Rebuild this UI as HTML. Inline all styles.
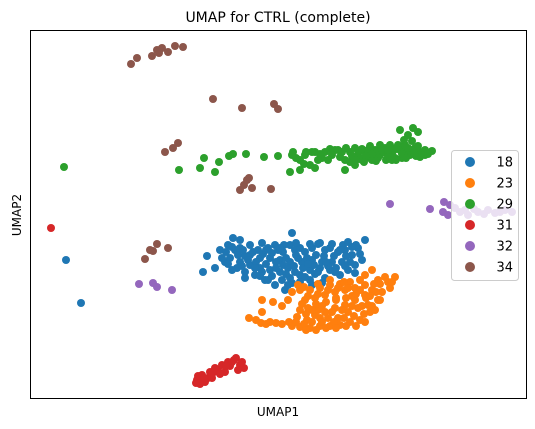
<!DOCTYPE html>
<html><head><meta charset="utf-8"><style>
body{margin:0;background:#fff;}
svg{display:block;font-family:"DejaVu Sans","Liberation Sans",sans-serif;}
</style></head><body>
<svg id="chart" width="535" height="429">
<rect width="535" height="429" fill="#fff"/>
<text x="278" y="22" text-anchor="middle" font-size="14">UMAP for CTRL (complete)</text>
<g id="points"></g>
<rect x="30.5" y="30.5" width="496" height="368" fill="none" stroke="#000" stroke-width="1"/>
<text x="278" y="416" text-anchor="middle" font-size="12">UMAP1</text>
<text x="21" y="215" text-anchor="middle" font-size="12" transform="rotate(-90 21 215)">UMAP2</text>
<g id="legend"></g>
</svg>
<script>
// data in UMAP units (read as pixel positions, converted below)
const categories=["18","23","29","31","32","34"];
const colors=["#1f77b4","#ff7f0e","#2ca02c","#d62728","#9467bd","#8c564b"];
const px18=[[66,260],[81,303],[203,272],[215,268],[225,262],[220,250],[228,245],[235,250],[230,258],[240,248],[245,256],[250,245],[258,250],[262,243],[268,248],[275,245],[283,252],[290,245],[295,250],[300,248],[305,252],[312,248],[318,244],[325,250],[330,248],[338,252],[345,250],[352,255],[358,248],[365,240],[362,260],[355,265],[348,270],[340,275],[330,270],[320,268],[310,270],[300,275],[290,278],[280,272],[270,270],[260,268],[250,265],[240,262],[245,272],[255,275],[265,280],[275,285],[285,290],[292,283],[302,262],[312,260],[322,262],[332,262],[342,262],[270,258],[280,260],[290,262],[260,258],[250,255],[237,268],[292,233],[320,243],[228,264],[207,256],[356,245],[343,245],[298,258],[283,265],[268,280],[245,278],[355,273],[310,280],[325,278],[240,240],[233,238],
[226,252],[232,247],[238,255],[243,250],[248,260],[253,252],[256,262],[263,254],[266,264],[272,253],[276,262],[278,250],[286,258],[288,268],[294,266],[296,255],[303,268],[307,258],[314,265],[316,255],[324,256],[328,266],[334,256],[336,268],[340,250],[346,256],[350,262],[360,254],[352,247],[262,272],[272,276],[282,280],[295,272],[305,277],[315,274],[335,272],[345,266],[255,268],[276,268],[286,274],[300,282],[288,285],[266,250],[284,245],[296,243],[310,244],[332,244],[348,242],[326,262],[318,272],[308,264],[242,266],[222,258],[232,270],[260,276],[312,285],[322,283],[280,248]];
const px23=[[249,318],[261,323],[270,322],[282,324],[289,322],[297,317],[300,327],[307,320],[315,315],[325,312],[335,308],[345,305],[355,300],[365,295],[372,290],[378,280],[385,277],[395,277],[390,288],[378,300],[370,312],[360,320],[350,322],[340,325],[330,326],[320,326],[310,328],[300,310],[305,300],[315,298],[325,295],[335,292],[345,290],[355,288],[365,285],[372,270],[380,300],[375,310],[368,305],[358,308],[348,312],[338,318],[328,318],[318,310],[308,308],[300,290],[310,290],[320,288],[330,285],[340,284],[350,282],[360,290],[288,300],[282,306],[262,300],[262,312],[273,302],[320,318],[336,300],[352,296],[298,285],[365,275],[365,322],
[256,320],[266,324],[276,323],[292,326],[304,324],[312,322],[322,322],[334,322],[344,318],[354,316],[364,314],[372,306],[382,292],[388,282],[376,292],[366,298],[356,294],[346,298],[336,298],[326,302],[316,304],[306,314],[312,310],[322,306],[332,312],[342,310],[352,306],[362,306],[370,296],[360,280],[348,288],[338,288],[328,290],[318,294],[308,296],[302,304],[296,322],[326,328],[336,328],[346,326],[356,326],[316,330],[306,330],[380,284],[392,282],[374,284],[344,282],[330,280],[318,284],[304,287],[292,292]];
const px29=[[64,167],[179,170],[200,168],[204,158],[215,172],[229,156],[233,154],[246,154],[264,157],[278,156],[219,162],[290,172],[292,155],[293,152],[300,160],[305,155],[310,165],[315,152],[322,158],[328,160],[335,150],[340,157],[350,152],[345,160],[355,148],[358,155],[365,152],[370,158],[375,150],[380,155],[385,148],[390,152],[395,158],[400,150],[405,145],[410,155],[415,148],[420,152],[425,150],[432,151],[413,128],[418,132],[400,130],[408,135],[362,160],[330,149],[318,160],[300,170],[350,162],[372,160],[386,160],[396,160],[402,158],[412,150],[425,155],[380,145],[390,145],[398,145],[362,149],[368,150],[376,152],[384,152],[392,154],[404,152],[416,156],[355,165],[338,150],[325,152],[312,152],[360,158],[315,168],[345,170],
[370,146],[378,158],[388,156],[394,150],[402,154],[408,148],[414,153],[420,157],[428,154],[372,154],[382,150],[366,156],[358,151],[352,156],[342,152],[332,155],[320,154],[306,152],[296,158],[304,164],[346,148],[364,162],[376,161],[392,160],[406,158],[412,141],[404,140],[396,148],[418,146],[388,150],[356,160]];
const px31=[[51,228],[197,380],[202,375],[208,378],[214,372],[205,382],[198,376],[218,370],[222,365],[228,362],[234,360],[240,365],[244,368],[238,370],[230,366],[225,372],[210,372],[215,368],[200,384],[236,358],[212,378],[220,374],[232,362],[204,378],[196,383],[226,366],[242,362]];
const px32=[[139,284],[153,283],[157,287],[172,290],[390,204],[430,209],[443,212],[444,202],[450,205],[455,208],[460,212],[468,215],[478,212],[488,210],[495,213],[505,210],[512,212],[448,215],[474,209],[484,214],[500,212],[465,210]];
const px34=[[131,64],[137,58],[152,56],[157,50],[162,48],[168,52],[175,46],[183,47],[159,53],[213,99],[242,108],[274,104],[278,109],[165,152],[178,143],[173,148],[244,185],[247,180],[252,188],[249,178],[271,189],[240,190],[150,250],[157,244],[145,259],[168,248],[153,251]];
const toU=a=>a.map(p=>[p[0]/10,(429-p[1])/10]);
const series=[toU(px18),toU(px23),toU(px29),toU(px31),toU(px32),toU(px34)];
const xDom=[3,52.7], yDom=[3,39.9];
const xs=v=>30+(v-xDom[0])/(xDom[1]-xDom[0])*497;
const ys=v=>399-(v-yDom[0])/(yDom[1]-yDom[0])*369;
const NS="http://www.w3.org/2000/svg";
const g=document.getElementById('points');
series.forEach((s,i)=>{
  s.forEach(p=>{
    const c=document.createElementNS(NS,'circle');
    c.setAttribute('cx',xs(p[0]));c.setAttribute('cy',ys(p[1]));c.setAttribute('r',4);
    c.setAttribute('fill',colors[i]);
    
    
    g.appendChild(c);
  });
});
const lg=document.getElementById('legend');
const box=document.createElementNS(NS,'rect');
box.setAttribute('x',451.5);box.setAttribute('y',150.5);box.setAttribute('width',67);box.setAttribute('height',130);
box.setAttribute('rx',3);box.setAttribute('fill','rgba(255,255,255,0.8)');box.setAttribute('stroke','#ccc');


lg.appendChild(box);
categories.forEach((c,i)=>{
  const y=162+i*21;
  const m=document.createElementNS(NS,'circle');
  m.setAttribute('cx',470);m.setAttribute('cy',y);m.setAttribute('r',5);m.setAttribute('fill',colors[i]);
  
  
  lg.appendChild(m);
  const t=document.createElementNS(NS,'text');
  t.setAttribute('x',513);t.setAttribute('y',y+4.5);t.setAttribute('text-anchor','end');t.setAttribute('font-size','13');
  t.textContent=c;
  
  
  lg.appendChild(t);
});
</script>
</body></html>
